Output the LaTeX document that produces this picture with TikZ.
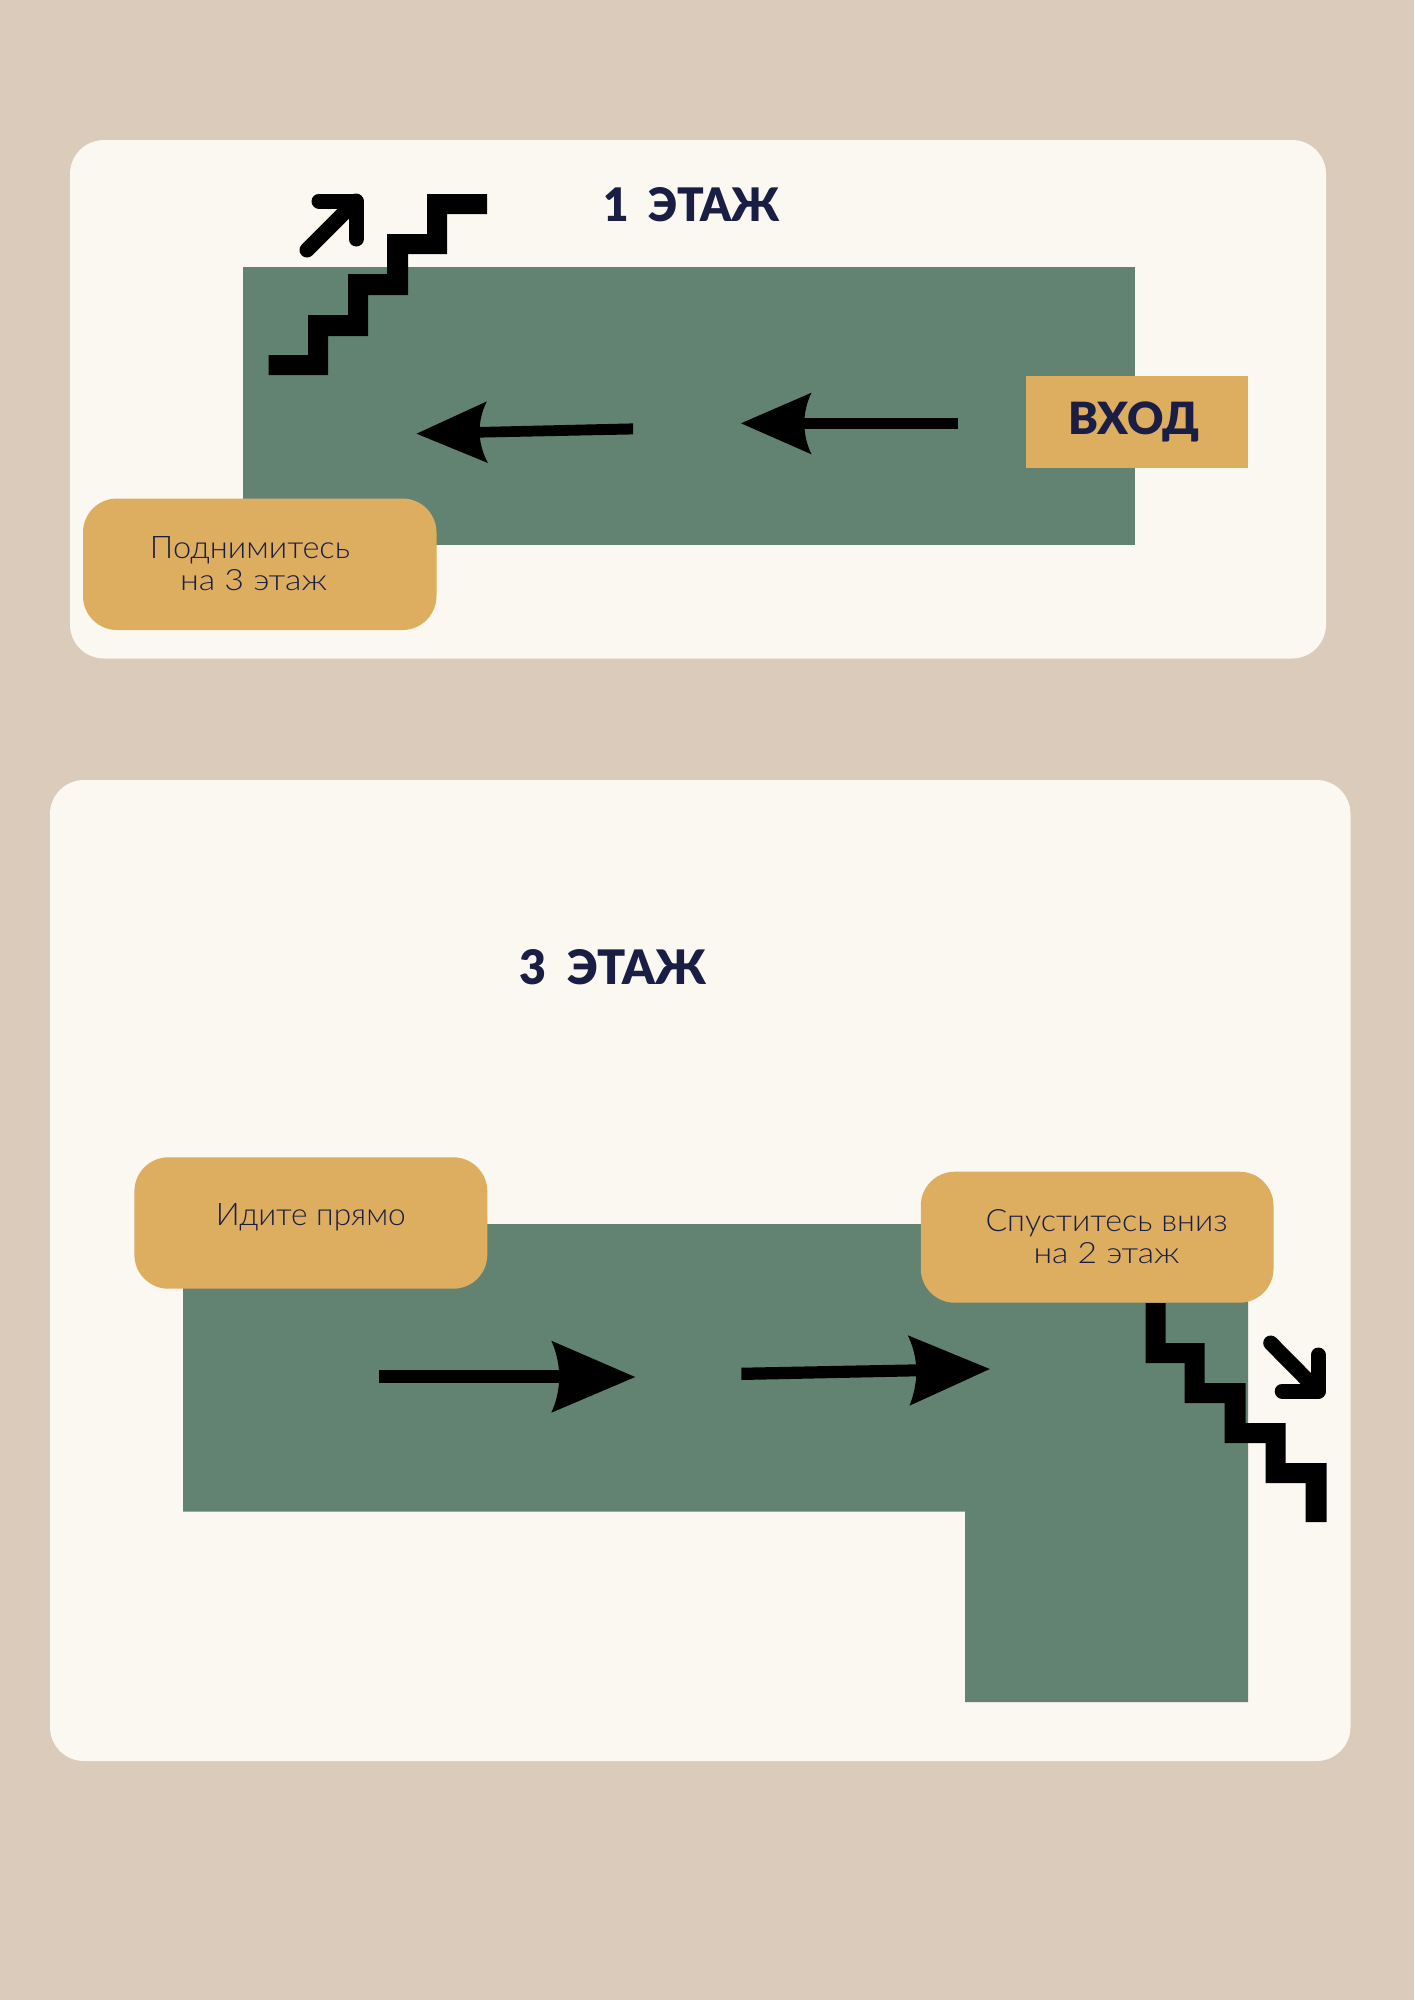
\documentclass[tikz,border=0pt]{standalone}
\usepackage{graphicx}
\usepackage{fontspec}
\setmainfont{Lato}
\newfontfamily\lightfont{Lato Light}
\newfontfamily\boldfont{Lato Black}
\definecolor{pagebg}{HTML}{DBCBBA}
\definecolor{cardbg}{HTML}{FBF8F1}
\definecolor{floorgreen}{HTML}{628372}
\definecolor{signyellow}{HTML}{DDAE5F}
\definecolor{inknavy}{HTML}{1A1E44}
\tikzset{
  x=1pt,y=-1pt,
  card/.style={fill=cardbg,rounded corners=34pt},
  floorarea/.style={fill=floorgreen},
  stairs/.style={fill=black},
  bigarrow/.style={fill=black},
  updown/.style={draw=black,line width=15pt,line cap=round,line join=round},
  signbox/.style={fill=signyellow,rounded corners=34pt},
  heading/.style={inner sep=0pt,outer sep=0pt,anchor=base west,text=inknavy,font=\boldfont},
  signtext/.style={inner sep=0pt,outer sep=0pt,anchor=north,align=center,text=inknavy,font=\lightfont\fontsize{28}{32.7}\selectfont},
}
\begin{document}
\begin{tikzpicture}
\useasboundingbox (0,0) rectangle (1414,2000);
\fill[pagebg] (0,0) rectangle (1414,2000);
% cards
\fill[card] (70,140) rectangle (1326,658.5);
\fill[card] (50,780) rectangle (1350.5,1761);
% floor areas
\fill[floorarea] (243,267) rectangle (1135,545);
\fill[floorarea] (183,1224) -- (1248,1224) -- (1248,1702) -- (965,1702) -- (965,1511.5) -- (183,1511.5) -- cycle;
% stairs, floor 1
\fill[stairs] (268.5,355) -- (308,355) -- (308,315) -- (348,315) -- (348,274) -- (387,274) -- (387,234) -- (427,234) -- (427,194) -- (487,194) -- (487,214) -- (447,214) -- (447,254) -- (408,254) -- (408,295) -- (368,295) -- (368,336) -- (328,336) -- (328,375) -- (268.5,375) -- cycle;
\draw[updown] (319,201) -- (356,201) -- (356,239);
\draw[updown] (307,250) -- (356,201);
% stairs, floor 3
\begin{scope}[xshift=0.7pt]
\fill[stairs] (1145,1303) -- (1165,1303) -- (1165,1343) -- (1204,1343) -- (1204,1383) -- (1245,1383) -- (1245,1423) -- (1285,1423) -- (1285,1463) -- (1326,1463) -- (1326,1522) -- (1305,1522) -- (1305,1483) -- (1265,1483) -- (1265,1443) -- (1224,1443) -- (1224,1403) -- (1184,1403) -- (1184,1363) -- (1145,1363) -- cycle;
\draw[updown] (1317.5,1355) -- (1317.5,1391) -- (1281.5,1391);
\draw[updown] (1270,1343) -- (1317.5,1391);
\end{scope}
% arrows, floor 1
\fill[bigarrow] (958,418) -- (803,418) -- (803,429) -- (958,429) -- cycle;
\fill[bigarrow] (741,423.3) -- (811.5,392.7) .. controls (802,412) and (802,435) .. (811.5,454.3) -- cycle;
\fill[bigarrow] (633,423.4) -- (479,427) -- (479,437.6) -- (633,434.4) -- cycle;
\fill[bigarrow] (416.5,433.7) -- (486.8,401.4) .. controls (477,421) and (477,443) .. (488,463) -- cycle;
% arrows, floor 3
\begin{scope}[xshift=0.8pt]
\fill[bigarrow] (378,1370.3) -- (560,1370.3) -- (560,1383) -- (378,1383) -- cycle;
\fill[bigarrow] (634.4,1377) -- (550.5,1340.7) .. controls (561,1364) and (561,1390) .. (550.5,1412.7) -- cycle;
\fill[bigarrow] (740.6,1367.7) -- (917,1364.3) -- (917,1376.3) -- (740.6,1380) -- cycle;
\fill[bigarrow] (989,1369) -- (907,1335.3) .. controls (918,1358) and (918,1382) .. (908.7,1405.7) -- cycle;
\end{scope}
% signs
\fill[signbox] (83,498.5) rectangle (436.5,630);
\fill[signbox] (134.4,1157.3) rectangle (487.3,1288.7);
\fill[signbox] (920.8,1171.7) rectangle (1273.5,1302.7);
\fill[signyellow] (1025.5,375.5) rectangle (1248,467.7);
% texts
\node[heading] (title1) at (603,221) {\resizebox{177pt}{34pt}{1\ \ ЭТАЖ}};
\node[heading] (title3) at (519,984) {\resizebox{187pt}{35pt}{3\ \ ЭТАЖ}};
\node[heading] (entry) at (1068,434.5) {\resizebox{132pt}{32.7pt}{ВХОД}};
\node[signtext] (upsign) at (250,536) {\resizebox{200pt}{22pt}{Поднимитесь}\\\hspace*{7pt}\resizebox{147pt}{21pt}{на 3 этаж}};
\node[signtext] (gosign) at (310.8,1203) {\resizebox{190pt}{22pt}{Идите прямо}};
\node[signtext] (downsign) at (1106.5,1209) {\resizebox{242pt}{22pt}{Спуститесь вниз}\\\resizebox{146pt}{21pt}{на 2 этаж}};
\end{tikzpicture}
\end{document}
